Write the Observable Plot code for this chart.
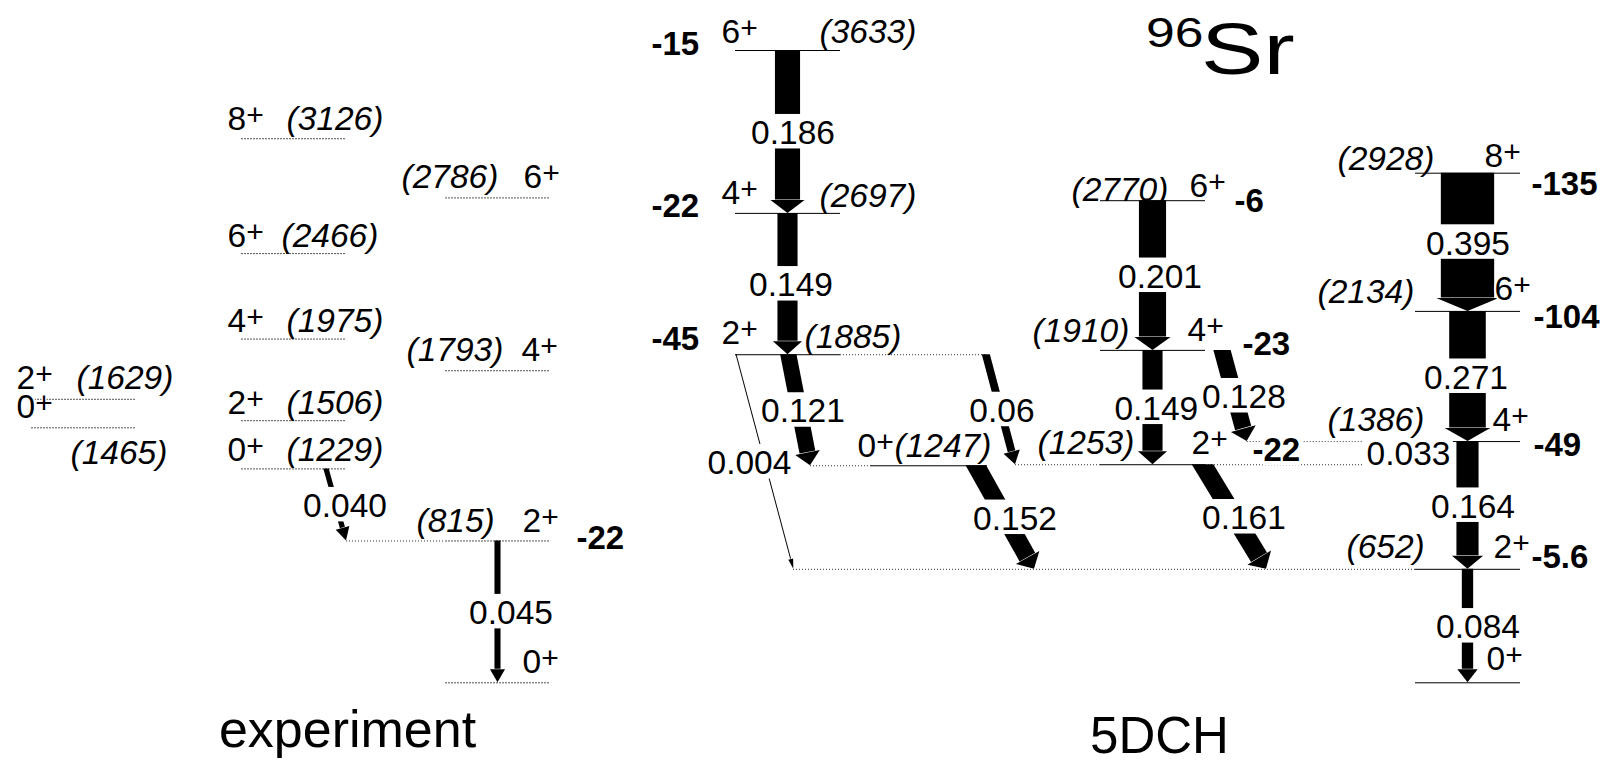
<!DOCTYPE html>
<html>
<head>
<meta charset="utf-8">
<script src="https://cdn.jsdelivr.net/npm/d3@7"></script>
<script src="https://cdn.jsdelivr.net/npm/@observablehq/plot@0.6"></script>
<style>
  html, body { margin: 0; padding: 0; background: #fff; }
  #chart svg { display: block; }
</style>
</head>
<body>
<div id="chart"></div>
<script>
// ================= DATA =================
// Levels: id, excitation energy (keV), spin (all positive parity), band column
const levelId     = ["e0","e815","e1793","e2786","e1229","e1506","e1975","e2466","e3126","e1465","e1629",
                     "t0","t652","t1386","t2134","t2928","t1885","t2697","t3633","t1247","t1253","t1910","t2770"];
const levelEnergy = [0,815,1793,2786,1229,1506,1975,2466,3126,1465,1629,
                     0,652,1386,2134,2928,1885,2697,3633,1247,1253,1910,2770];
const levelSpin   = [0,2,4,6,0,2,4,6,8,0,2,
                     0,2,4,6,8,2,4,6,0,2,4,6];
const levelColumn = ["C","C","C","C","B","B","B","B","B","A","A",
                     "G","G","G","G","G","D","D","D","E","F","F","F"];

// Spectroscopic quadrupole moments (bold numbers)
const quadLevel = ["e815","t3633","t2697","t1885","t2770","t1910","t1253","t2928","t2134","t1386","t652"];
const quadValue = ["-22","-15","-22","-45","-6","-23","-22","-135","-104","-49","-5.6"];

// E2 transitions: from, to, B(E2)
const transFrom = ["e1229","e815","t3633","t2697","t1885","t1885","t1885","t1247","t2770","t1910","t1910","t1253","t1386","t2928","t2134","t1386","t652"];
const transTo   = ["e815","e0","t2697","t1885","t1247","t1253","t652","t652","t1910","t1253","t1386","t652","t1253","t2134","t1386","t652","t0"];
const transBE2  = ["0.040","0.045","0.186","0.149","0.121","0.06","0.004","0.152","0.201","0.149","0.128","0.161","0.033","0.395","0.271","0.164","0.084"];

const panelTitles = ["experiment", "5DCH"];
const nucleusMass = "96";
const nucleusSymbol = "Sr";

// ================= LAYOUT (horizontal placement, label offsets) =================
const columnSpan = {A: [31, 135], B: [241, 346], C: [445, 550], D: [735, 840], E: [870, 987], F: [1100, 1205], G: [1415, 1520]};
// id: [spinX, spinDy, energyX, energyDy]
const levelLabelLayout = {
  e3126: [227, -9, 286, -9],
  e2466: [227, -7, 281, -7],
  e1975: [227, -7, 286, -7],
  e1506: [227, -7, 286, -7],
  e1229: [227, -8, 286, -8],
  e1629: [16, -10, 76, -10],
  e1465: [16, -10, 70, 36],
  e2786: [523, -10, 401, -10],
  e1793: [521, -10, 406, -10],
  e815:  [522, -9, 416, -9],
  e0:    [522, -10, null, 0],
  t3633: [721, -8, 819, -8],
  t2697: [721, -9, 819, -6],
  t1885: [721, -11, 804, -7],
  t1247: [857, -9, 894, -9],
  t2770: [1189, -4, 1071, 0],
  t1910: [1187, -9, 1032, -8],
  t1253: [1191, -11, 1037, -11],
  t2928: [1484, -6, 1337, -3],
  t2134: [1494, -11, 1317, -8],
  t1386: [1492, -11, 1327, -11],
  t652:  [1493, -11, 1346, -11],
  t0:    [1486, -13, null, 0]
};
// id: [x, dy]
const quadLayout = {
  e815: [576, -3], t3633: [651, -6], t2697: [651, -7], t1885: [651, -15],
  t2770: [1234, 1], t1910: [1242, -6], t1253: [1252, -14],
  t2928: [1531, 11], t2134: [1533, 6], t1386: [1533, 4], t652: [1531, -12]
};
const transLayout = {
  "e1229>e815": {x0: 326, x1: 346, dx: 8.5},
  "e815>e0": {dx: 13},
  "t3633>t2697": {dx: 5},
  "t2697>t1885": {dx: 3},
  "t1885>t1247": {x0: 788.3, x1: 810, dx: 3.3},
  "t1885>t1253": {x0: 985.8, x1: 1015, dx: 1},
  "t1885>t652": {x0: 736, x1: 793.3, dx: -15.7},
  "t1247>t652": {x0: 975.8, x1: 1034, dx: 9.6},
  "t2770>t1910": {dx: 7},
  "t1910>t1253": {dx: 3.3},
  "t1910>t1386": {x0: 1222, x1: 1246.7, dx: 9},
  "t1253>t652": {x0: 1202.5, x1: 1266, dx: 9.2},
  "t1386>t1253": {x0: 1408, x1: 1408, dx: 0, hidden: true},
  "t2928>t2134": {dx: 0},
  "t2134>t1386": {dx: -2},
  "t1386>t652": {dx: 5},
  "t652>t0": {dx: 10}
};
// dotted level extensions
const extensionLayout = [
  {level: "e815", x1: 346, x2: 445},
  {level: "t1885", x1: 840, x2: 986},
  {level: "t1247", x1: 810, x2: 870},
  {level: "t1253", x1: 1015, x2: 1100},
  {level: "t1253", x1: 1205, x2: 1415},
  {level: "t1386", x1: 1246.7, x2: 1415},
  {level: "t652", x1: 793, x2: 1415}
];
// title placement: [x, baseline, fontSize, horizontal stretch]
const titleLayout = {mass: [1146, 46.5, 43, 1.2], symbol: [1201, 74.3, 72, 1.3]};
const WIDTH_PER_BE2 = 135;
const LABEL_SIZE = 33.5;

// ================= BUILD =================
const FONT = "'Liberation Sans', Arial, Helvetica, sans-serif";
const levels = levelId.map((id, i) => ({id, energy: levelEnergy[i], spin: levelSpin[i], column: levelColumn[i], exp: id[0] === "e"}));
const levelById = new Map(levels.map(d => [d.id, d]));
const colCenter = c => (columnSpan[c][0] + columnSpan[c][1]) / 2;

const transitions = transFrom.map((f, i) => {
  const a = levelById.get(f), b = levelById.get(transTo[i]);
  const lay = transLayout[f + ">" + transTo[i]] || {};
  const x0 = lay.x0 ?? colCenter(a.column), x1 = lay.x1 ?? colCenter(a.column);
  return {label: transBE2[i], value: +transBE2[i], eFrom: a.energy, eTo: b.energy, x0, x1, dx: lay.dx ?? 0, hidden: !!lay.hidden};
});
const extensions = extensionLayout.map(e => ({...e, energy: levelById.get(e.level).energy}));
const quads = quadLevel.map((id, i) => ({id, text: quadValue[i], energy: levelById.get(id).energy}));

const halo = (w) => ({stroke: "white", strokeWidth: w, paintOrder: "stroke", strokeLinejoin: "round"});
const textWidthEm = s => [...s].reduce((a, c) => a + (c === "." ? 0.278 : 0.556), 0);

// arrows drawn through the plot's own x / y scales
function arrowMark(index, scales) {
  const X = scales.x, Y = scales.y;
  const g = d3.create("svg:g").attr("fill", "black").attr("stroke", "none");
  for (const t of transitions) {
    if (t.hidden) continue;
    const x0 = X(t.x0), y0 = Y(t.eFrom), x1 = X(t.x1), y1 = Y(t.eTo);
    const w = Math.max(WIDTH_PER_BE2 * t.value, 1);
    const ddx = x1 - x0, ddy = y1 - y0, L = Math.hypot(ddx, ddy);
    const ux = ddx / L, uy = ddy / L;
    const px = -uy, py = ux;
    const thin = w < 2;
    const headLen = thin ? 10 : 13;
    const headHalf = thin ? 2.5 : (w * uy + 9) / 2;
    const hw = (w * uy) / 2;
    const bx = x1 - ux * (headLen + 0.5), by = y1 - uy * (headLen + 0.5);
    const shaft = [[x0 - w / 2, y0], [x0 + w / 2, y0], [bx - px * hw, by - py * hw], [bx + px * hw, by + py * hw]];
    const hbx = x1 - ux * headLen, hby = y1 - uy * headLen;
    const head = [[hbx + px * headHalf, hby + py * headHalf], [x1, y1], [hbx - px * headHalf, hby - py * headHalf]];
    g.append("path").attr("d", "M" + shaft.map(p => p.join(",")).join("L") + "Z");
    g.append("path").attr("d", "M" + head.map(p => p.join(",")).join("L") + "Z");
  }
  return g.node();
}

// white boxes behind the B(E2) values (they interrupt the arrows)
function labelBoxMark(index, scales) {
  const X = scales.x, Y = scales.y;
  const g = d3.create("svg:g").attr("fill", "white").attr("stroke", "none");
  for (const t of transitions) {
    const cx = X((t.x0 + t.x1) / 2 + t.dx), cy = Y((t.eFrom + t.eTo) / 2) + 0.5;
    const w = textWidthEm(t.label) * LABEL_SIZE + 6;
    g.append("rect").attr("x", cx - w / 2).attr("y", cy - 18).attr("width", w).attr("height", 34.5);
  }
  return g.node();
}

// nucleus title (slightly stretched horizontally, as in the original figure)
function titleMark(index, scales) {
  const X = scales.x;
  const g = d3.create("svg:g").attr("fill", "black").attr("font-family", FONT).attr("text-anchor", "start");
  for (const [txt, [x, y, size, sx]] of [[nucleusMass, titleLayout.mass], [nucleusSymbol, titleLayout.symbol]]) {
    g.append("text").attr("text-anchor", "start").attr("transform", `translate(${X(x)},${y}) scale(${sx},1)`).attr("font-size", size).text(txt);
  }
  return g.node();
}

const marks = [
  Plot.ruleY(levels.filter(d => d.exp), {y: "energy", x1: d => columnSpan[d.column][0], x2: d => columnSpan[d.column][1], stroke: "#555", strokeWidth: 1, strokeDasharray: "2,1"}),
  Plot.ruleY(levels.filter(d => !d.exp), {y: "energy", x1: d => columnSpan[d.column][0], x2: d => columnSpan[d.column][1], stroke: "black", strokeWidth: 1}),
  Plot.ruleY(extensions, {y: "energy", x1: "x1", x2: "x2", stroke: "#333", strokeWidth: 1, strokeDasharray: "1,2"}),
  arrowMark,
  labelBoxMark
];

for (const l of levels) {
  const L = levelLabelLayout[l.id];
  if (L[2] != null) {
    marks.push(Plot.text([l], {x: () => L[2], y: "energy", text: d => `(${d.energy})`, dy: L[3],
      textAnchor: "start", lineAnchor: "bottom", fontStyle: "italic", fontSize: LABEL_SIZE, fontFamily: FONT, fill: "black"}));
  }
}
for (const l of levels) {
  const L = levelLabelLayout[l.id];
  marks.push(Plot.text([l], {x: () => L[0], y: "energy", text: d => String(d.spin), dy: L[1],
    textAnchor: "start", lineAnchor: "bottom", fontSize: LABEL_SIZE, fontFamily: FONT, fill: "black", ...halo(4)}));
  marks.push(Plot.text([l], {x: () => L[0] + 18.8, y: "energy", text: () => "+", dy: L[1] - 5,
    textAnchor: "start", lineAnchor: "bottom", fontSize: 30, fontFamily: FONT, fill: "black", ...halo(3)}));
}
for (const q of quads) {
  const Q = quadLayout[q.id];
  marks.push(Plot.text([q], {x: () => Q[0], y: "energy", text: "text", dy: Q[1],
    textAnchor: "start", lineAnchor: "middle", fontSize: 33, fontWeight: "bold", fontFamily: FONT, fill: "black", ...halo(8)}));
}
marks.push(Plot.text(transitions, {
  x: d => (d.x0 + d.x1) / 2 + d.dx, y: d => (d.eFrom + d.eTo) / 2, text: "label", dy: 1.5,
  textAnchor: "middle", lineAnchor: "middle", fontSize: LABEL_SIZE, fontFamily: FONT, fill: "black"
}));
marks.push(Plot.text([panelTitles[0]], {x: () => 347, text: d => d, frameAnchor: "bottom", lineAnchor: "bottom", dy: -15,
  textAnchor: "middle", fontSize: 52, fontFamily: FONT, fill: "black"}));
marks.push(Plot.text([panelTitles[1]], {x: () => 1159, text: d => d, frameAnchor: "bottom", lineAnchor: "bottom", dy: -9,
  textAnchor: "middle", fontSize: 51, fontFamily: FONT, fill: "black"}));
marks.push(titleMark);

const chart = Plot.plot({
  width: 1619, height: 761, margin: 0,
  x: {domain: [0, 1619], axis: null},
  y: {domain: [0, 3633], range: [682.3, 50], axis: null},
  style: {background: "white", fontFamily: FONT, overflow: "visible"},
  marks
});
document.getElementById("chart").append(chart);
</script>
</body>
</html>
